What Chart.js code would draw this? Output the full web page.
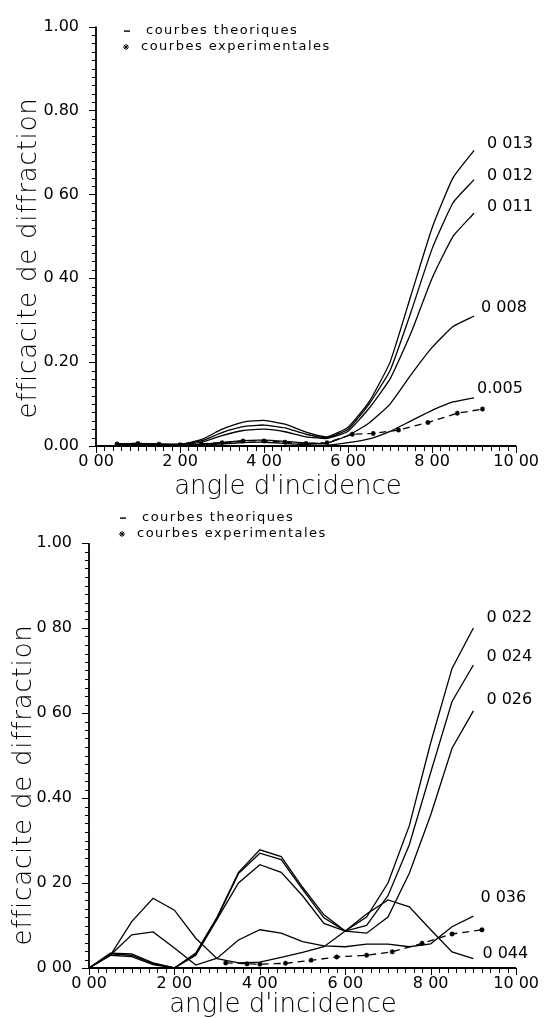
<!DOCTYPE html>
<html>
<head>
<meta charset="utf-8">
<script src="https://cdn.jsdelivr.net/npm/chart.js@4.4.0/dist/chart.umd.min.js"></script>
<style>
  html, body { margin: 0; padding: 0; background: #fff; }
  body { width: 545px; height: 1018px; position: relative; overflow: hidden; }
  canvas { position: absolute; left: 0; }
  #topChart { top: 0; }
  #bottomChart { top: 509px; }
</style>
</head>
<body>
<canvas id="topChart" width="545" height="509"></canvas>
<canvas id="bottomChart" width="545" height="509"></canvas>
<script>
// upper figure
const anglesTop = [0.5, 1, 1.5, 2, 2.5, 3, 3.5, 4, 4.5, 5, 5.5, 6, 6.5, 7, 7.5, 8, 8.5, 9];
const namesTop = ['0 013', '0 012', '0 011', '0 008', '0.005'];
const th013 = [0.005, 0.006, 0.005, 0.004, 0.015, 0.040, 0.057, 0.061, 0.052, 0.033, 0.022, 0.045, 0.105, 0.200, 0.360, 0.520, 0.640, 0.705];
const th012 = [0.005, 0.005, 0.004, 0.004, 0.012, 0.032, 0.046, 0.050, 0.043, 0.028, 0.020, 0.040, 0.100, 0.180, 0.320, 0.470, 0.580, 0.635];
const th011 = [0.004, 0.005, 0.004, 0.004, 0.009, 0.025, 0.037, 0.040, 0.034, 0.022, 0.018, 0.035, 0.090, 0.160, 0.270, 0.400, 0.500, 0.555];
const th008 = [0.003, 0.003, 0.002, 0.002, 0.004, 0.008, 0.013, 0.014, 0.011, 0.007, 0.007, 0.025, 0.055, 0.100, 0.170, 0.235, 0.285, 0.310];
const th005 = [0.002, 0.002, 0.002, 0.001, 0.002, 0.005, 0.008, 0.009, 0.006, 0.003, 0.002, 0.008, 0.017, 0.035, 0.060, 0.085, 0.105, 0.115];
const expAnglesTop = [0.5, 1, 1.5, 2, 2.5, 3, 3.5, 4, 4.5, 5, 5.5, 6.1, 6.6, 7.2, 7.9, 8.6, 9.2];
const expTop = [0.005, 0.006, 0.004, 0.003, 0.005, 0.008, 0.012, 0.012, 0.009, 0.006, 0.008, 0.028, 0.030, 0.038, 0.056, 0.078, 0.088];

// lower figure
const anglesBottom = [0, 0.5, 1, 1.5, 2, 2.5, 3, 3.5, 4, 4.5, 5, 5.5, 6, 6.5, 7, 7.5, 8, 8.5, 9];
const namesBottom = ['0 022', '0 024', '0 026', '0 036', '0 044'];
const th022 = [0, 0.035, 0.033, 0.012, 0.000, 0.035, 0.120, 0.225, 0.278, 0.262, 0.190, 0.125, 0.087, 0.120, 0.200, 0.335, 0.530, 0.705, 0.800];
const th024 = [0, 0.033, 0.030, 0.010, 0.000, 0.033, 0.118, 0.222, 0.270, 0.255, 0.185, 0.118, 0.087, 0.100, 0.170, 0.290, 0.460, 0.627, 0.713];
const th026 = [0, 0.030, 0.027, 0.008, 0.000, 0.030, 0.115, 0.200, 0.243, 0.225, 0.170, 0.105, 0.087, 0.082, 0.120, 0.223, 0.360, 0.517, 0.605];
const th036 = [0, 0.030, 0.078, 0.085, 0.047, 0.007, 0.023, 0.066, 0.090, 0.082, 0.062, 0.052, 0.050, 0.056, 0.056, 0.050, 0.057, 0.097, 0.122];
const th044 = [0, 0.030, 0.109, 0.164, 0.136, 0.070, 0.022, 0.012, 0.014, 0.025, 0.037, 0.050, 0.087, 0.127, 0.160, 0.144, 0.090, 0.038, 0.022];
const expAnglesBottom = [3.2, 3.7, 4.0, 4.6, 5.2, 5.8, 6.5, 7.1, 7.8, 8.5, 9.2];
const expBottom = [0.012, 0.010, 0.009, 0.011, 0.018, 0.026, 0.030, 0.038, 0.058, 0.080, 0.090];

// tick labels as printed
const xTickLabels = ['0 00', '2 00', '4 00', '6 00', '8 00', '10 00'];
const yTickLabelsTop = ['0.00', '0.20', '0 40', '0 60', '0.80', '1.00'];
const yTickLabelsBottom = ['0 00', '0 20', '0.40', '0 60', '0 80', '1.00'];

const FONT = '"DejaVu Sans", "Liberation Sans", sans-serif';

const toPoints = (xs, ys) => xs.map((x, i) => ({ x: x, y: ys[i] }));

const theory = (xs, ys, smooth) => ({
    data: toPoints(xs, ys),
    borderColor: '#000',
    borderWidth: 1.3,
    pointRadius: 0,
    tension: smooth ? 0.15 : 0
});

const experiment = (xs, ys) => ({
    data: toPoints(xs, ys),
    borderColor: '#000',
    backgroundColor: '#000',
    borderWidth: 1.3,
    borderDash: [7, 5],
    pointStyle: 'star',
    pointRadius: 2.5,
    pointBorderWidth: 1.3,
    tension: 0
});

// axes with minor ticks, legend, titles and curve names
const paperAxes = {
    id: 'paperAxes',
    afterDraw(chart, args, opts) {
        const { ctx, chartArea: a, scales: { x, y } } = chart;
        ctx.save();
        ctx.strokeStyle = '#000';
        ctx.fillStyle = '#000';

        ctx.lineWidth = 1.8;
        ctx.beginPath();
        ctx.moveTo(a.left, a.top);
        ctx.lineTo(a.left, a.bottom);
        ctx.lineTo(a.right, a.bottom);
        ctx.stroke();

        ctx.lineWidth = 1;
        ctx.beginPath();
        for (let i = 0; i <= 50; i++) {
            const py = Math.round(y.getPixelForValue(i * 0.02)) + 0.5;
            const len = i % 10 === 0 ? 7 : 4;
            ctx.moveTo(a.left, py);
            ctx.lineTo(a.left - len, py);
        }
        for (let i = 0; i <= 50; i++) {
            const px = Math.round(x.getPixelForValue(i * 0.2)) + 0.5;
            const len = i % 10 === 0 ? 7 : 5;
            ctx.moveTo(px, a.bottom);
            ctx.lineTo(px, a.bottom + len);
        }
        ctx.stroke();

        // legend
        const lg = opts.legend;
        ctx.font = '13px ' + FONT;
        ctx.letterSpacing = '1.5px';
        ctx.textAlign = 'left';
        ctx.textBaseline = 'middle';
        ctx.fillRect(lg.x, lg.y - 0.6, 6, 1.4);
        ctx.fillText('courbes theoriques', lg.x + 22, lg.y);
        Chart.helpers.drawPoint(ctx, { pointStyle: 'star', radius: 3, borderWidth: 1.5 }, lg.x + 2, lg.y + 16);
        ctx.fillText('courbes experimentales', lg.x + 17, lg.y + 16);

        // curve names at the end of each theoretical curve
        ctx.font = '16px ' + FONT;
        ctx.letterSpacing = '0px';
        opts.names.forEach((name, i) => {
            const pts = chart.data.datasets[i].data;
            const last = pts[pts.length - 1];
            const [dx, dy] = opts.nameOffsets[i];
            ctx.fillText(name, x.getPixelForValue(last.x) + dx, y.getPixelForValue(last.y) + dy);
        });

        // axis titles
        ctx.font = '200 26px ' + FONT;
        ctx.textAlign = 'center';
        ctx.textBaseline = 'alphabetic';
        ctx.fillText("angle d'incidence", opts.xTitle.x, opts.xTitle.y);

        ctx.translate(opts.yTitle.x, opts.yTitle.y);
        ctx.rotate(-Math.PI / 2);
        ctx.letterSpacing = '0.8px';
        ctx.fillText('efficacite de diffraction', 0, 0);
        ctx.restore();
    }
};

function makeChart(canvasId, datasets, yLabels, area, extra) {
    const canvasHeight = 509;
    return new Chart(document.getElementById(canvasId).getContext('2d'), {
        type: 'line',
        data: { datasets: datasets },
        plugins: [paperAxes],
        options: {
            responsive: false,
            animation: false,
            events: [],
            layout: { padding: { top: area.top, right: 545 - area.right, left: 0, bottom: 0 } },
            plugins: {
                legend: { display: false },
                tooltip: { enabled: false },
                paperAxes: extra
            },
            scales: {
                x: {
                    type: 'linear',
                    min: 0,
                    max: 10,
                    grid: { display: false, drawTicks: false },
                    border: { display: false },
                    ticks: {
                        stepSize: 2,
                        padding: 6,
                        color: '#000',
                        font: { family: FONT, size: 16 },
                        maxRotation: 0,
                        callback: (v) => xTickLabels[Math.round(v / 2)]
                    },
                    afterFit: (scale) => { scale.height = canvasHeight - area.bottom; }
                },
                y: {
                    min: 0,
                    max: 1,
                    grid: { display: false, drawTicks: false },
                    border: { display: false },
                    ticks: {
                        stepSize: 0.2,
                        padding: 17,
                        color: '#000',
                        font: { family: FONT, size: 16 },
                        callback: (v) => yLabels[Math.round(v / 0.2)]
                    },
                    afterFit: (scale) => { scale.width = area.left; }
                }
            }
        }
    });
}

makeChart('topChart', [
    theory(anglesTop, th013, true),
    theory(anglesTop, th012, true),
    theory(anglesTop, th011, true),
    theory(anglesTop, th008, true),
    theory(anglesTop, th005, true),
    experiment(expAnglesTop, expTop)
], yTickLabelsTop, { left: 96, right: 521, top: 20, bottom: 446 }, {
    names: namesTop,
    nameOffsets: [[13, -6], [13, -3.5], [13, -6.5], [7, -8], [3, -9]],
    legend: { x: 124, y: 31 },
    xTitle: { x: 288, y: 494 },
    yTitle: { x: 36, y: 258 }
});

makeChart('bottomChart', [
    theory(anglesBottom, th022),
    theory(anglesBottom, th024),
    theory(anglesBottom, th026),
    theory(anglesBottom, th036),
    theory(anglesBottom, th044),
    experiment(expAnglesBottom, expBottom)
], yTickLabelsBottom, { left: 89, right: 518, top: 34, bottom: 459 }, {
    names: namesBottom,
    nameOffsets: [[13, -10], [13, -8], [13, -11], [7, -18], [9, -5]],
    legend: { x: 120, y: 9 },
    xTitle: { x: 283, y: 503 },
    yTitle: { x: 31, y: 276 }
});
</script>
</body>
</html>
